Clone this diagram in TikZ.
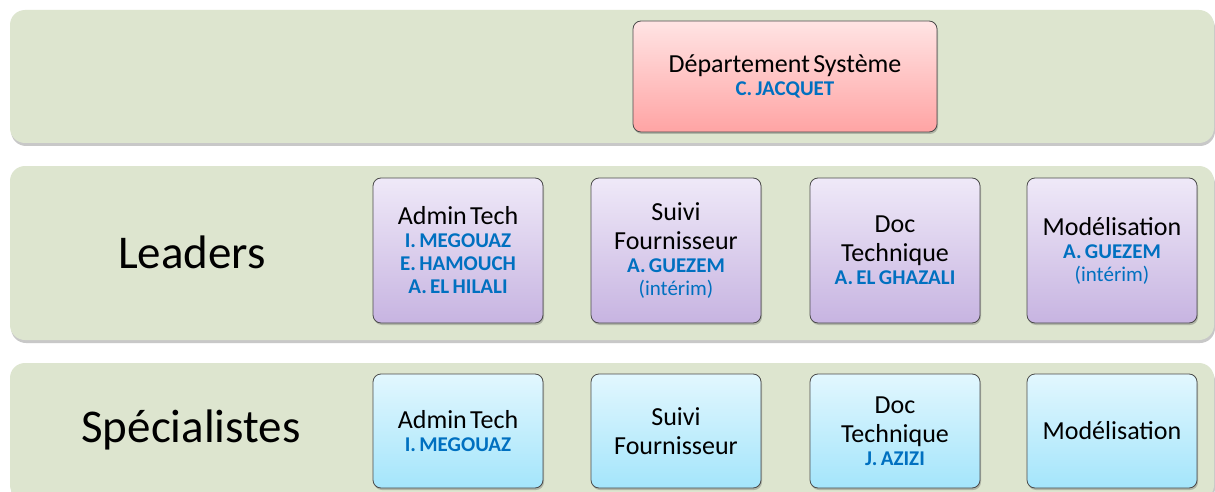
\documentclass[tikz,border=0pt]{standalone}
\usepackage{fontspec}
\setmainfont{Carlito}
\usetikzlibrary{shadows}
\definecolor{band}{HTML}{DDE5CF}
\definecolor{nameblue}{HTML}{0070C0}
\definecolor{pinktop}{HTML}{FFE4E4}
\definecolor{pinkbot}{HTML}{FFA4A4}
\definecolor{purptop}{HTML}{EFE9F8}
\definecolor{purpbot}{HTML}{C7B4E1}
\definecolor{bluetop}{HTML}{E2F7FE}
\definecolor{bluebot}{HTML}{A4E5FB}
\definecolor{edge}{HTML}{4A4A4A}
\newcommand\nm[1]{{\fontsize{26}{29}\selectfont #1\par}}
\newcommand\pn[1]{{\fontsize{21}{23}\selectfont\bfseries\color{nameblue}#1\par}}
\newcommand\intr{{\fontsize{21}{23}\selectfont\color{nameblue}(intérim)\par}}
\tikzset{
  bandbox/.style={fill=band, rounded corners=15pt, draw=none,
    drop shadow={shadow xshift=1pt, shadow yshift=-3pt, opacity=.3, fill=black!70}},
  unit/.style={draw=edge, line width=0.8pt, rounded corners=8pt,
    minimum width=170pt, text width=164pt, align=center, inner sep=2pt,
    drop shadow={shadow xshift=1pt, shadow yshift=-2pt, opacity=.3, fill=black!70}},
  leader/.style={unit, minimum height=145pt, top color=purptop, bottom color=purpbot},
  spec/.style={unit, minimum height=114pt, top color=bluetop, bottom color=bluebot},
  head/.style={unit, minimum width=304pt, text width=298pt, minimum height=111pt,
    top color=pinktop, bottom color=pinkbot},
  rowlabel/.style={font=\fontsize{47}{50}\selectfont, inner sep=0pt}
}
\begin{document}
\begin{tikzpicture}[x=1pt,y=-1pt]
\useasboundingbox (0,0) rectangle (1215,492);
\fill[white] (0,0) rectangle (1215,492);
\path[bandbox] (10,10) rectangle (1214,143);
\path[bandbox] (10,166) rectangle (1214,340);
\path[bandbox] (10,363) rectangle (1214,500);

\node[head] (dept) at (785,76.5) {\nm{Département Système}\pn{C. JACQUET}};

\node[rowlabel] (lead) at (192,252) {Leaders};
\node[rowlabel] (specl) at (191,430) {Spécialistes};

\node[leader] (l1) at (458,250.5) {\nm{Admin Tech}\pn{I. MEGOUAZ}\pn{E. HAMOUCH}\pn{A. EL HILALI}};
\node[leader] (l2) at (676,250.5) {\nm{Suivi}\nm{Fournisseur}\pn{A. GUEZEM}\intr};
\node[leader] (l3) at (895,250.5) {\nm{Doc}\nm{Technique}\pn{A. EL GHAZALI}};
\node[leader] (l4) at (1112,250.5) {\nm{Modélisation}\pn{A. GUEZEM}\intr};

\node[spec] (s1) at (458,431) {\nm{Admin Tech}\pn{I. MEGOUAZ}};
\node[spec] (s2) at (676,431) {\nm{Suivi}\nm{Fournisseur}};
\node[spec] (s3) at (895,431) {\nm{Doc}\nm{Technique}\pn{J. AZIZI}};
\node[spec] (s4) at (1112,431) {\nm{Modélisation}};
\end{tikzpicture}
\end{document}
